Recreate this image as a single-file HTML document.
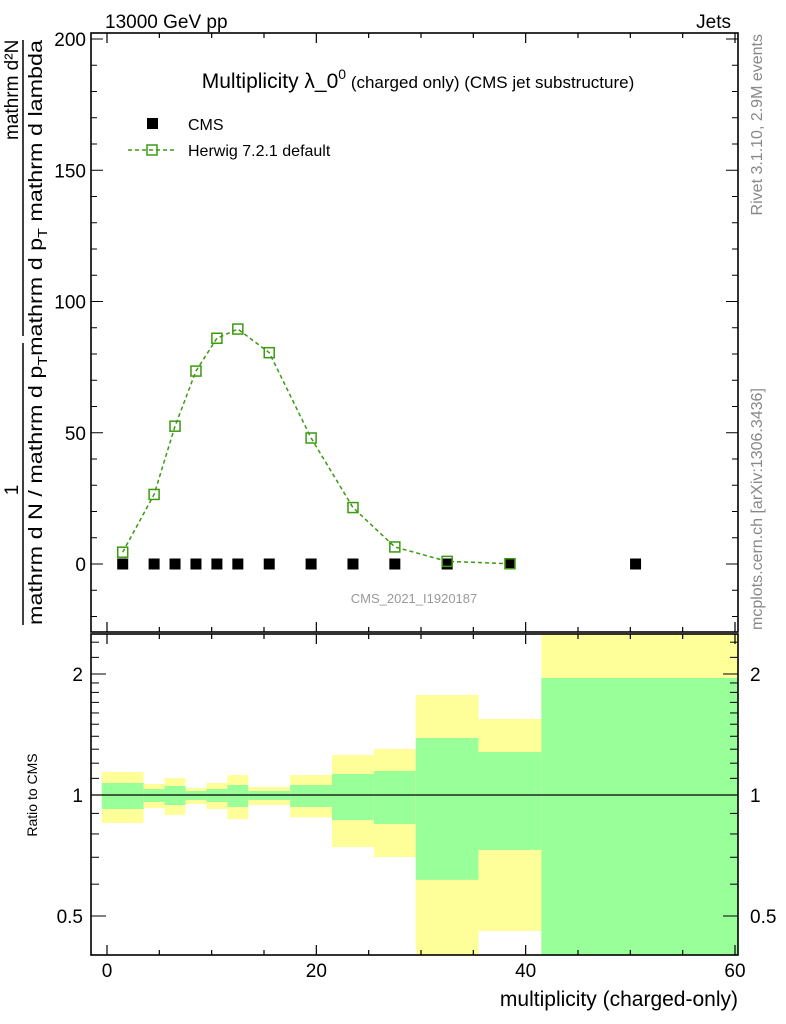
<!DOCTYPE html>
<html><head><meta charset="utf-8"><style>
body{margin:0;background:#fff}
svg{display:block;font-family:"Liberation Sans",sans-serif}
</style></head><body>
<svg id="c" width="786" height="1024" viewBox="0 0 786 1024" xmlns="http://www.w3.org/2000/svg">
<rect width="786" height="1024" fill="#fff"/>
<text x="105" y="28" font-size="19">13000 GeV pp</text>
<text x="731" y="28" font-size="19" text-anchor="end">Jets</text>
<text x="418" y="88" font-size="21" text-anchor="middle">Multiplicity λ_0<tspan font-size="14" dy="-9">0</tspan><tspan font-size="17" dy="9"> (charged only) (CMS jet substructure)</tspan></text>
<g id="legend">
<rect x="147" y="118" width="11" height="11" fill="#000"/>
<text x="188" y="130" font-size="16">CMS</text>
<line x1="128" y1="150" x2="176" y2="150" stroke="#3a9a10" stroke-width="1.5" stroke-dasharray="4,3"/>
<rect x="147" y="145" width="10" height="10" fill="none" stroke="#3a9a10" stroke-width="1.5"/>
<text x="188" y="156" font-size="16">Herwig 7.2.1 default</text>
</g>
<text x="414" y="603" font-size="13" fill="#999" text-anchor="middle">CMS_2021_I1920187</text>
<text transform="translate(762,34) rotate(-90)" font-size="16" fill="#888" text-anchor="end">Rivet 3.1.10,  2.9M events</text>
<text transform="translate(762,630) rotate(-90)" font-size="16" fill="#888">mcplots.cern.ch [arXiv:1306.3436]</text>
<g font-size="19">
<text transform="translate(18,490) rotate(-90)" text-anchor="middle">1</text>
<text transform="translate(18,140) rotate(-90)">mathrm d²N</text>
<line x1="23" y1="625" x2="23" y2="343" stroke="#000" stroke-width="1.5"/>
<line x1="23" y1="336" x2="23" y2="40" stroke="#000" stroke-width="1.5"/>
<text transform="translate(42,625) rotate(-90)" textLength="585" lengthAdjust="spacingAndGlyphs">mathrm d N / mathrm d p<tspan font-size="13" dy="5">T</tspan><tspan dy="-5">mathrm d p</tspan><tspan font-size="13" dy="5">T</tspan><tspan dy="-5"> mathrm d lambda</tspan></text>
</g>
<text transform="translate(37,795) rotate(-90)" font-size="14" text-anchor="middle">Ratio to CMS</text>
<text x="738" y="1006" font-size="21" text-anchor="end">multiplicity (charged-only)</text>
<g id="bands"></g>
<g id="axes"></g>
<g id="marks"></g>
</svg>
<script>
const binEdges=[-0.5,3.5,5.5,7.5,9.5,11.5,13.5,17.5,21.5,25.5,29.5,35.5,41.5,61.5];
const cmsX=[1.5,4.5,6.5,8.5,10.5,12.5,15.5,19.5,23.5,27.5,32.5,38.5,50.5];
const cmsY=[0,0,0,0,0,0,0,0,0,0,0,0,0];
const herwigX=[1.5,4.5,6.5,8.5,10.5,12.5,15.5,19.5,23.5,27.5,32.5,38.5];
const herwigY=[4.5,26.5,52.5,73.5,86,89.5,80.5,48,21.5,6.5,1,0.1];
const yellowHi=[1.141,1.065,1.102,1.041,1.071,1.121,1.047,1.121,1.257,1.302,1.773,1.546,3];
const greenHi=[1.071,1.035,1.053,1.023,1.035,1.059,1.023,1.059,1.128,1.147,1.386,1.279,1.955];
const greenLo=[0.923,0.961,0.944,0.972,0.961,0.934,0.972,0.934,0.866,0.847,0.615,0.730,0.3];
const yellowLo=[0.852,0.928,0.892,0.950,0.923,0.871,0.944,0.880,0.742,0.701,0.3,0.459,0.3];
const xTicks=[0,20,40,60];
const yTicks=[0,50,100,150,200];
const rTicks=[0.5,1,2];

const NS="http://www.w3.org/2000/svg";
const L=91,R=738,T=33,B=632,RT=634,RB=955;
const X=v=>107+(v)*(735-107)/60;
const Y=v=>564-v*(564-39)/200;
const RY=v=>Math.min(RB,Math.max(RT,795-121*Math.log2(v)));
function mk(p,tag,a){const e=document.createElementNS(NS,tag);for(const k in a)e.setAttribute(k,a[k]);document.getElementById(p).appendChild(e);return e;}

for(let i=0;i<yellowHi.length;i++){
  const x1=X(binEdges[i]),x2=Math.min(R,X(binEdges[i+1]));
  let e=mk('bands','rect',{x:x1,y:RY(yellowHi[i]),width:x2-x1,height:RY(yellowLo[i])-RY(yellowHi[i]),fill:'#ffff99'});
  
  
  e=mk('bands','rect',{x:x1,y:RY(greenHi[i]),width:x2-x1,height:RY(greenLo[i])-RY(greenHi[i]),fill:'#99ff99'});
  
  
}
mk('axes','line',{x1:L,x2:R,y1:RY(1),y2:RY(1),stroke:'#000','stroke-width':1.2});
for(const [t,b] of [[T,B],[RT,RB]]){
  const f=mk('axes','rect',{x:L,y:t,width:R-L,height:b-t,fill:'none',stroke:'#000','stroke-width':1.6});
  
  
  for(let v=0;v<=60;v+=5){
    const len=(v%20===0)?10:5;
    for(const [yy,d] of [[t,1],[b,-1]]) mk('axes','line',{x1:X(v),x2:X(v),y1:yy,y2:yy+d*len,stroke:'#000','stroke-width':1.2});
  }
}
for(let v=-20;v<=200;v+=10){
  const len=v%50===0?12:6;
  mk('axes','line',{x1:L,x2:L+len,y1:Y(v),y2:Y(v),stroke:'#000'});
  mk('axes','line',{x1:R,x2:R-len,y1:Y(v),y2:Y(v),stroke:'#000'});
}
yTicks.forEach(v=>{const t=mk('axes','text',{x:L-5,y:Y(v)+7,'font-size':19,'text-anchor':'end'});t.textContent=v;

});
[0.4,0.5,0.6,0.7,0.8,0.9,1,2].forEach(v=>{const len=(v===0.5||v===1||v===2)?15:8;
  mk('axes','line',{x1:L,x2:L+len,y1:RY(v),y2:RY(v),stroke:'#000'});
  mk('axes','line',{x1:R,x2:R-len,y1:RY(v),y2:RY(v),stroke:'#000'});});
[1.1,1.2,1.3,1.4,1.5,1.6,1.7,1.8,1.9,2.2,2.4].forEach(v=>{
  mk('axes','line',{x1:L,x2:L+8,y1:RY(v),y2:RY(v),stroke:'#000'});
  mk('axes','line',{x1:R,x2:R-8,y1:RY(v),y2:RY(v),stroke:'#000'});});
rTicks.forEach(v=>{
  let t=mk('axes','text',{x:L-8,y:RY(v)+7,'font-size':19,'text-anchor':'end'});t.textContent=v;
  
  
  t=mk('axes','text',{x:R+12,y:RY(v)+7,'font-size':19});t.textContent=v;
  
  });
xTicks.forEach(v=>{const t=mk('axes','text',{x:X(v),y:977,'font-size':19,'text-anchor':'middle'});t.textContent=v;

});

const pts=herwigX.map((x,i)=>X(x)+','+Y(herwigY[i])).join(' ');
const pl=mk('marks','polyline',{points:pts,fill:'none',stroke:'#3a9a10','stroke-width':1.5,'stroke-dasharray':'4,3'});


cmsX.forEach((x,i)=>{const r=mk('marks','rect',{x:X(x)-5.5,y:Y(cmsY[i])-5.5,width:11,height:11,fill:'#000'});

});
herwigX.forEach((x,i)=>{const r=mk('marks','rect',{x:X(x)-5,y:Y(herwigY[i])-5,width:10,height:10,fill:'none',stroke:'#3a9a10','stroke-width':1.5});

});
</script>
</body></html>
